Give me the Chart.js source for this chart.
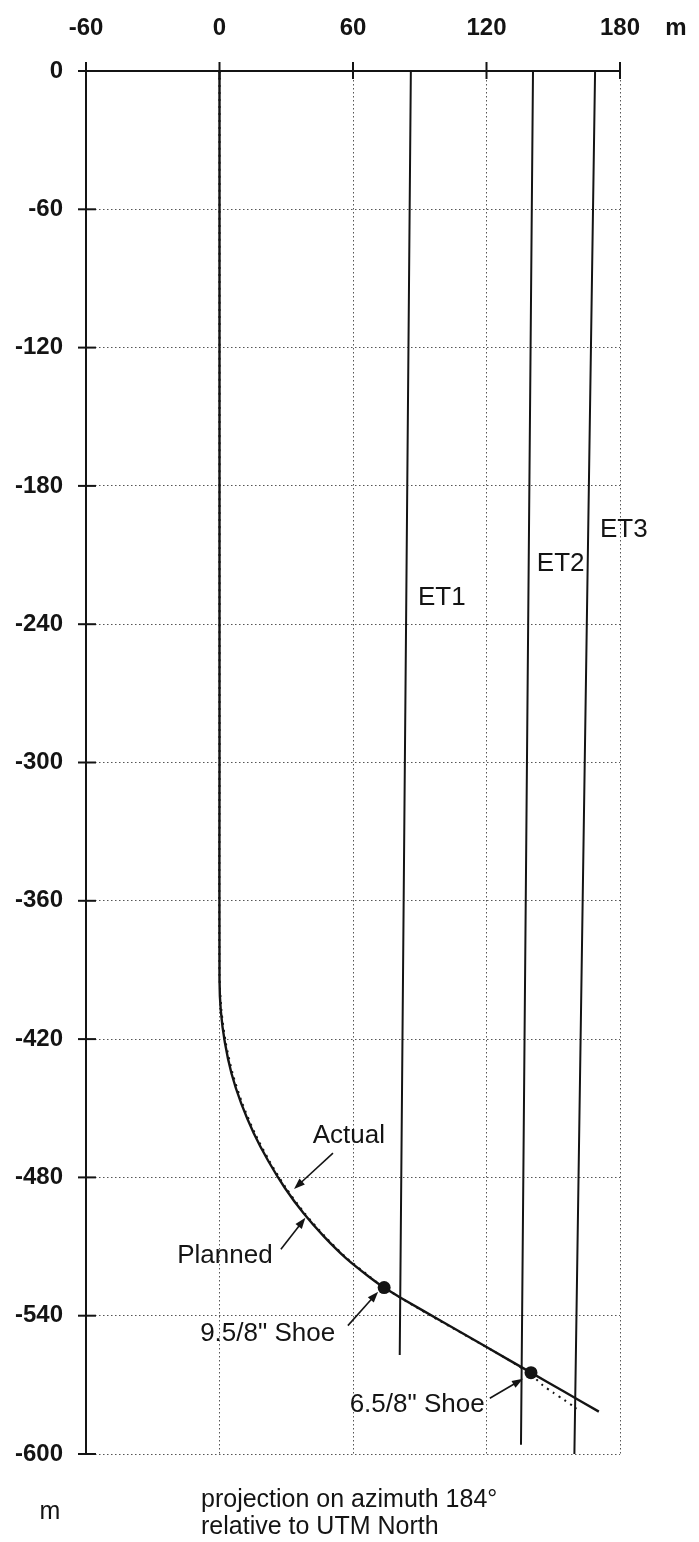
<!DOCTYPE html>
<html>
<head>
<meta charset="utf-8">
<script src="https://cdn.jsdelivr.net/npm/chart.js@4.4.1/dist/chart.umd.min.js"></script>
<style>
  html, body { margin: 0; padding: 0; background: #ffffff; }
  #wrap { width: 699px; height: 1542px; position: relative; }
  canvas { display: block; }
</style>
</head>
<body>
<div id="wrap"><canvas id="c" width="699" height="1542"></canvas></div>
<script>
// Horizontal offset along azimuth 184° (m) and vertical depth (m)
const xTickValues = [-60, 0, 60, 120, 180];
const yTickValues = [0, -60, -120, -180, -240, -300, -360, -420, -480, -540, -600];

// Actual well trajectory
const actualX = [0, 0, 0, 0.6, 2.4, 5.4, 9.8, 15.4, 22, 29.4, 37.8, 47, 56.8, 67.6, 74, 81.4, 100, 120, 140, 155, 170.5];
const actualY = [0, -300, -394, -407.8, -421.4, -434.9, -448, -460.8, -473, -484.6, -495.6, -505.7, -515, -523.4, -527.8, -532.2, -542.5, -553.6, -564.7, -573, -581.6];

// Planned well trajectory
const plannedX = [0, 0, 0, 0.9, 2.8, 5.9, 10.3, 15.9, 22.5, 29.9, 38.3, 47.5, 57.2, 68, 74, 90, 110, 130, 140, 145, 150, 155, 160.5];
const plannedY = [0, -300, -392, -407.8, -421.4, -434.9, -448, -460.8, -473, -484.6, -495.6, -505.7, -515, -523.4, -527.8, -537.2, -548.2, -559.2, -565.5, -570, -573.4, -576.6, -580.3];

// Neighbouring wells
const et1X = [86, 81];
const et1Y = [0, -557];
const et2X = [140.9, 135.5];
const et2Y = [0, -596];
const et3X = [168.8, 159.5];
const et3Y = [0, -600];

// Casing shoes
const shoeX = [74, 140];
const shoeY = [-527.8, -564.7];
const shoeNames = ['9.5/8" Shoe', '6.5/8" Shoe'];

const wellNames = ['ET1', 'ET2', 'ET3'];

const pts = (xs, ys) => xs.map((x, i) => ({ x: x, y: ys[i] }));

// Text and arrow placement in axis units
const notes = [
  { text: wellNames[0], at: [89.2, -228.6] },
  { text: wellNames[1], at: [142.6, -214] },
  { text: wellNames[2], at: [171, -199] },
  { text: 'Actual', at: [41.9, -462], from: [51, -469.5], to: [33.5, -485] },
  { text: 'Planned', at: [-19, -514.1], from: [27.6, -511.2], to: [38.6, -497.5] },
  { text: shoeNames[0], at: [-8.7, -547.9], from: [57.7, -544.3], to: [71.3, -529.6] },
  { text: shoeNames[1], at: [58.5, -578.5], from: [121.5, -575.8], to: [136.4, -567.4] }
];

const INK = '#141414';
const FAMILY = '"Liberation Sans", Arial, sans-serif';
const noteFont = '26px ' + FAMILY;
const captionFont = '25px ' + FAMILY;
const tickFont = { family: FAMILY, size: 24, weight: 'bold' };

const decorations = {
  id: 'decorations',
  afterDraw(chart) {
    const ctx = chart.ctx;
    const xs = chart.scales.x, ys = chart.scales.y;
    const area = chart.chartArea;
    ctx.save();
    // crossing tick marks on both axes
    ctx.strokeStyle = INK;
    ctx.lineWidth = 2;
    xTickValues.forEach(v => {
      const px = xs.getPixelForValue(v);
      ctx.beginPath();
      ctx.moveTo(px, area.top - 9);
      ctx.lineTo(px, area.top + 8);
      ctx.stroke();
    });
    yTickValues.forEach(v => {
      const py = ys.getPixelForValue(v);
      ctx.beginPath();
      ctx.moveTo(area.left - 8, py);
      ctx.lineTo(area.left + 10, py);
      ctx.stroke();
    });

    // labels and arrows
    ctx.fillStyle = INK;
    ctx.font = noteFont;
    ctx.textBaseline = 'middle';
    ctx.textAlign = 'left';
    notes.forEach(n => {
      ctx.fillText(n.text, xs.getPixelForValue(n.at[0]), ys.getPixelForValue(n.at[1]));
      if (n.from) {
        const x1 = xs.getPixelForValue(n.from[0]), y1 = ys.getPixelForValue(n.from[1]);
        const x2 = xs.getPixelForValue(n.to[0]), y2 = ys.getPixelForValue(n.to[1]);
        const ang = Math.atan2(y2 - y1, x2 - x1);
        const hl = 11, hw = 4;
        ctx.lineWidth = 1.6;
        ctx.beginPath();
        ctx.moveTo(x1, y1);
        ctx.lineTo(x2 - Math.cos(ang) * hl * 0.8, y2 - Math.sin(ang) * hl * 0.8);
        ctx.stroke();
        ctx.beginPath();
        ctx.moveTo(x2, y2);
        ctx.lineTo(x2 - Math.cos(ang) * hl - Math.sin(ang) * hw, y2 - Math.sin(ang) * hl + Math.cos(ang) * hw);
        ctx.lineTo(x2 - Math.cos(ang) * hl + Math.sin(ang) * hw, y2 - Math.sin(ang) * hl - Math.cos(ang) * hw);
        ctx.closePath();
        ctx.fill();
      }
    });

    // unit labels and caption
    ctx.textAlign = 'center';
    ctx.font = 'bold 24px ' + FAMILY;
    ctx.fillText('m', 676, 28);
    ctx.font = captionFont;
    ctx.fillText('m', 50, 1512);
    ctx.textAlign = 'left';
    ctx.fillText('projection on azimuth 184\u00b0', 201, 1500);
    ctx.fillText('relative to UTM North', 201, 1527);
    ctx.restore();
  }
};

const lineSet = (label, data, width, dash) => ({
  label: label,
  data: data,
  showLine: true,
  borderColor: INK,
  borderWidth: width,
  borderDash: dash || [],
  pointRadius: 0,
  tension: 0.25,
  fill: false
});

new Chart(document.getElementById('c'), {
  type: 'scatter',
  data: {
    datasets: [
      lineSet('Planned', pts(plannedX, plannedY), 2, [2, 5]),
      lineSet(wellNames[0], pts(et1X, et1Y), 2),
      lineSet(wellNames[1], pts(et2X, et2Y), 2),
      lineSet(wellNames[2], pts(et3X, et3Y), 2),
      lineSet('Actual', pts(actualX, actualY), 2.4),
      {
        label: 'Shoes',
        data: pts(shoeX, shoeY),
        showLine: false,
        pointRadius: 6.5,
        pointBackgroundColor: INK,
        pointBorderColor: INK,
        pointBorderWidth: 0
      }
    ]
  },
  options: {
    responsive: false,
    animation: false,
    devicePixelRatio: 1,
    layout: { padding: { left: 0, top: 0, right: 79, bottom: 88 } },
    plugins: { legend: { display: false }, tooltip: { enabled: false } },
    scales: {
      x: {
        type: 'linear',
        position: 'top',
        min: -60,
        max: 180,
        afterFit: s => { s.height = 71; },
        ticks: {
          stepSize: 60,
          color: INK,
          font: tickFont,
          padding: 28,
          callback: v => String(v)
        },
        grid: { color: '#555', lineWidth: 1, drawTicks: false },
        border: { display: true, color: INK, width: 2, dash: [1.5, 2.5] }
      },
      y: {
        type: 'linear',
        position: 'left',
        min: -600,
        max: 0,
        afterFit: s => { s.width = 86; },
        ticks: {
          stepSize: 60,
          color: INK,
          font: tickFont,
          padding: 23,
          callback: v => String(v)
        },
        grid: { color: '#555', lineWidth: 1, drawTicks: false },
        border: { display: true, color: INK, width: 2, dash: [1.5, 2.5] }
      }
    }
  },
  plugins: [decorations]
});
</script>
</body>
</html>
